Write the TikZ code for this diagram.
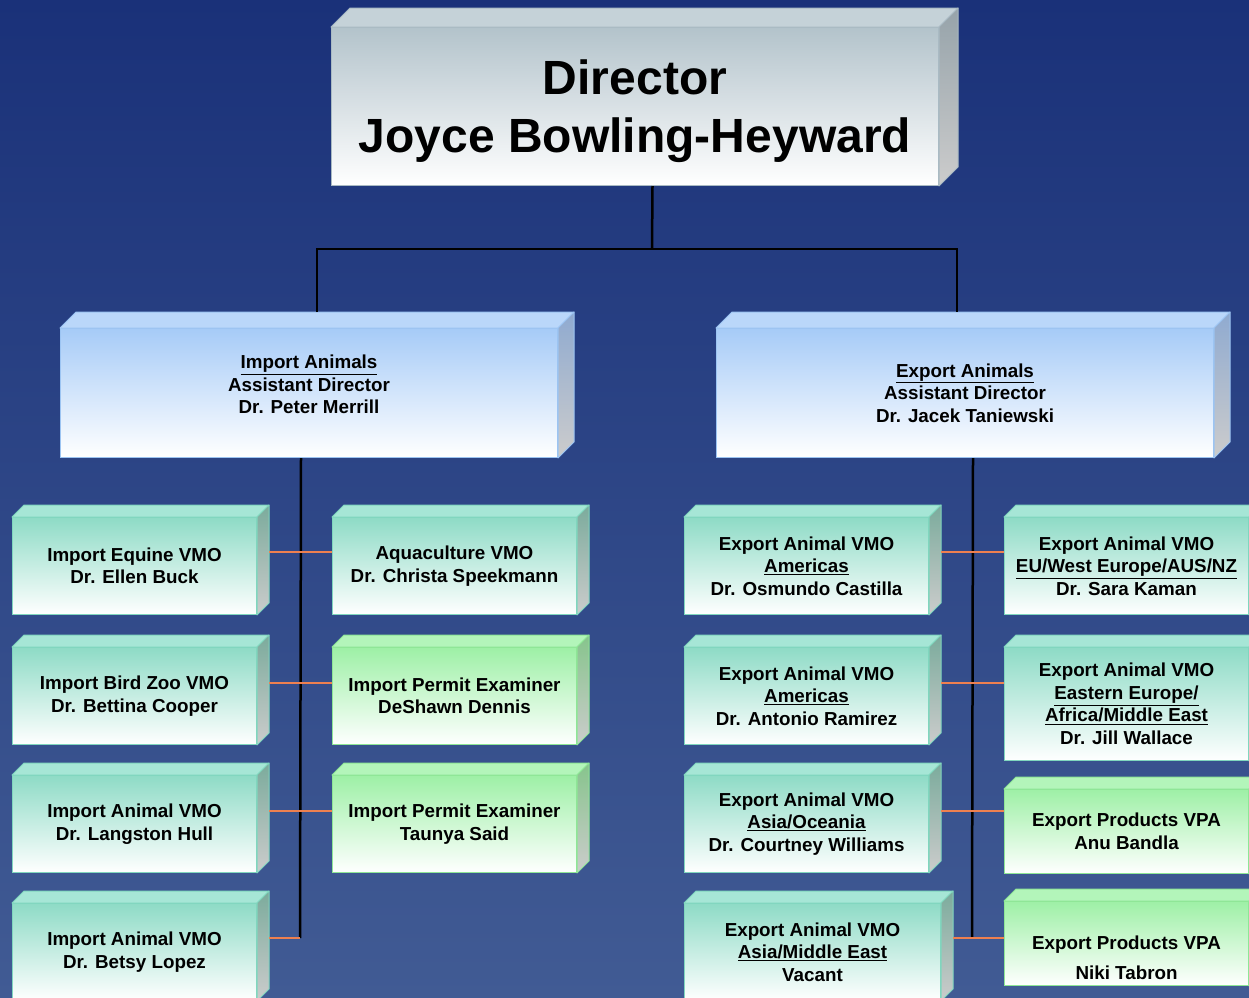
\documentclass[tikz,border=0pt]{standalone}
\usepackage{fontspec}
\setmainfont{Liberation Sans}
\usetikzlibrary{calc}
\definecolor{bgtop}{HTML}{1A3179}
\definecolor{bgbot}{HTML}{415B94}
\definecolor{dirfront}{HTML}{B3C3CB}
\definecolor{dirtop}{HTML}{C5D2D8}
\definecolor{dirside}{HTML}{96A3AA}
\definecolor{dirline}{HTML}{A9BAC3}
\definecolor{bluefront}{HTML}{A6CBF7}
\definecolor{bluetop}{HTML}{BAD7FA}
\definecolor{blueside}{HTML}{8FAAD0}
\definecolor{blueline}{HTML}{9CC4F2}
\definecolor{tealfront}{HTML}{8EDBC6}
\definecolor{tealtop}{HTML}{A6E6D6}
\definecolor{tealside}{HTML}{7BAB9C}
\definecolor{tealline}{HTML}{80D6BE}
\definecolor{greenfront}{HTML}{9EF0A6}
\definecolor{greentop}{HTML}{B3F5BA}
\definecolor{greenside}{HTML}{86C48C}
\definecolor{greenline}{HTML}{8EE696}
\definecolor{sidebot}{HTML}{CCCCCC}
\definecolor{stubcol}{HTML}{EE8050}
\newcommand{\threed}[5]{%
  \path[fill=#3, draw=#5, line width=1pt, line join=round] (#1.north west) -- ++(#2pt,#2pt) -- ([shift={(#2pt,#2pt)}]#1.north east) -- (#1.north east) -- cycle;
  \path[top color=#4, bottom color=sidebot, draw=#5, line width=1pt, line join=round] (#1.north east) -- ++(#2pt,#2pt) -- ([shift={(#2pt,#2pt)}]#1.south east) -- (#1.south east) -- cycle;
}
\begin{document}
\begin{tikzpicture}[x=1pt,y=-1pt,
  box/.style={draw, line width=1pt, anchor=north west, inner sep=2pt, align=center,
    font=\bfseries\fontsize{18.8}{22.5}\selectfont, text=black, bottom color=white},
  dirbox/.style={box, top color=dirfront, draw=dirline, font=\bfseries\fontsize{48}{58}\selectfont},
  bluebox/.style={box, top color=bluefront, draw=blueline},
  tealbox/.style={box, top color=tealfront, draw=tealline},
  greenbox/.style={box, top color=greenfront, draw=greenline},
  conn/.style={draw=black, line width=2.5pt},
  stub/.style={draw=stubcol, line width=2pt}]
\useasboundingbox (0,0) rectangle (1249,997);
\fill[top color=bgtop, bottom color=bgbot] (0,0) rectangle (1249,997);

% spine coordinates
\coordinate (bus) at (652,249);
\coordinate (ls1) at (300,552);
\coordinate (ls2) at (300,683);
\coordinate (ls3) at (300,811);
\coordinate (ls4) at (300,938);
\coordinate (rs1) at (972,552);
\coordinate (rs2) at (972,683);
\coordinate (rs3) at (972,811);
\coordinate (rs4) at (972,938);

% nodes
\node[dirbox, minimum width=607pt, minimum height=158pt] (dir) at (331,27) {\rule{0pt}{45pt}Director\\Joyce Bowling-Heyward};
\node[bluebox, minimum width=497pt, minimum height=129pt, text depth=17pt] (ia) at (60,328) {\underline{Import Animals}\\Assistant Director\\Dr. Peter Merrill};
\node[bluebox, minimum width=497pt, minimum height=129pt] (ea) at (716,328) {\underline{Export Animals}\\Assistant Director\\Dr. Jacek Taniewski};

\node[tealbox, minimum width=244pt, minimum height=97pt] (eq) at (12,517) {Import Equine VMO\\Dr. Ellen Buck};
\node[tealbox, minimum width=244pt, minimum height=97pt] (bz) at (12,647) {Import Bird Zoo VMO\\Dr. Bettina Cooper};
\node[tealbox, minimum width=244pt, minimum height=97pt] (la) at (12,775) {Import Animal VMO\\Dr. Langston Hull};
\node[tealbox, minimum width=244pt, minimum height=97pt] (bl) at (12,903) {Import Animal VMO\\Dr. Betsy Lopez};

\node[tealbox, minimum width=244pt, minimum height=97pt] (aq) at (332,517) {Aquaculture VMO\\Dr. Christa Speekmann};
\node[greenbox, minimum width=244pt, minimum height=97pt] (pd) at (332,647) {Import Permit Examiner\\DeShawn Dennis};
\node[greenbox, minimum width=244pt, minimum height=97pt] (ts) at (332,775) {Import Permit Examiner\\Taunya Said};

\node[tealbox, minimum width=244pt, minimum height=97pt] (am1) at (684,517) {Export Animal VMO\\\underline{Americas}\\Dr. Osmundo Castilla};
\node[tealbox, minimum width=244pt, minimum height=97pt] (am2) at (684,647) {Export Animal VMO\\\underline{Americas}\\Dr. Antonio Ramirez};
\node[tealbox, minimum width=244pt, minimum height=97pt] (ao) at (684,775) {Export Animal VMO\\\underline{Asia/Oceania}\\Dr. Courtney Williams};
\node[tealbox, minimum width=256pt, minimum height=97pt] (ame) at (684,903) {Export Animal VMO\\\underline{Asia/Middle East}\\Vacant};

\node[tealbox, minimum width=244pt, minimum height=97pt] (eu) at (1004,517) {Export Animal VMO\\\underline{EU/West Europe/AUS/NZ}\\Dr. Sara Kaman};
\node[tealbox, minimum width=244pt, minimum height=113pt] (ee) at (1004,647) {Export Animal VMO\\\underline{Eastern Europe/}\\\underline{Africa/Middle East}\\Dr. Jill Wallace};
\node[greenbox, minimum width=244pt, minimum height=84pt] (ab) at (1004,789) {Export Products VPA\\Anu Bandla};
\node[greenbox, minimum width=244pt, minimum height=84pt] (nt) at (1004,901) {\rule{0pt}{42pt}Export Products VPA\\[7pt]Niki Tabron};

% 3D faces
\threed{dir}{19}{dirtop}{dirside}{dirline}
\threed{ia}{16}{bluetop}{blueside}{blueline}
\threed{ea}{16}{bluetop}{blueside}{blueline}
\foreach \n in {eq,bz,la,bl,aq,am1,am2,ao,ame,eu,ee}{\threed{\n}{12}{tealtop}{tealside}{tealline}}
\foreach \n in {pd,ts,ab,nt}{\threed{\n}{12}{greentop}{greenside}{greenline}}

% connectors
\draw[conn] ([xshift=17.5pt]dir.south) -- (bus);
\draw[conn] ([xshift=8pt,yshift=16pt]ia.north) |- (bus) -| ([xshift=-8pt,yshift=16pt]ea.north);
\draw[conn] ([xshift=-8pt]ia.south) -- (ls4);
\draw[conn] ([xshift=8pt]ea.south) -- (rs4);

\draw[stub] ([xshift=12pt]eq.east |- ls1) -- (aq.west |- ls1);
\draw[stub] ([xshift=12pt]bz.east |- ls2) -- (pd.west |- ls2);
\draw[stub] ([xshift=12pt]la.east |- ls3) -- (ts.west |- ls3);
\draw[stub] ([xshift=12pt]bl.east |- ls4) -- (ls4);

\draw[stub] ([xshift=12pt]am1.east |- rs1) -- (eu.west |- rs1);
\draw[stub] ([xshift=12pt]am2.east |- rs2) -- (ee.west |- rs2);
\draw[stub] ([xshift=12pt]ao.east |- rs3) -- (ab.west |- rs3);
\draw[stub] ([xshift=12pt]ame.east |- rs4) -- (nt.west |- rs4);
\end{tikzpicture}
\end{document}
